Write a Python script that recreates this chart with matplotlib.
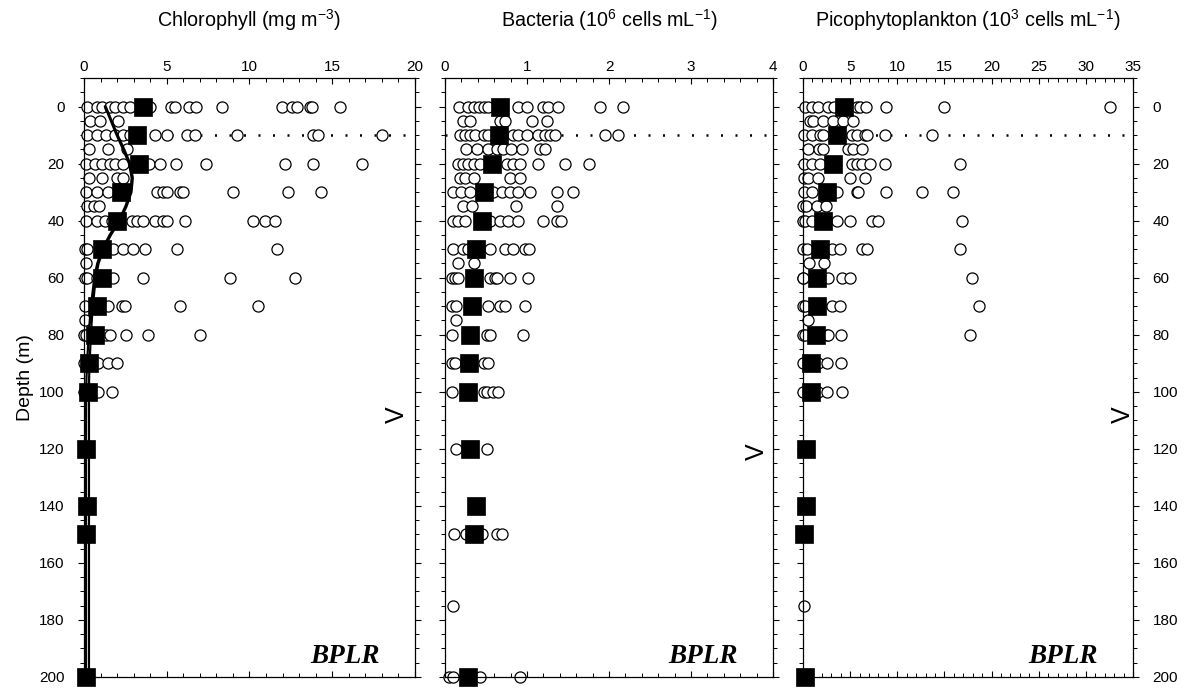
import matplotlib
matplotlib.use("Agg")
import matplotlib.pyplot as plt
from matplotlib.ticker import MultipleLocator

plt.rcParams['font.family'] = ['Liberation Sans', 'DejaVu Sans']
plt.rcParams['mathtext.fontset'] = 'custom'
plt.rcParams['mathtext.rm'] = 'Liberation Sans'
plt.rcParams['mathtext.it'] = 'Liberation Sans:italic'

# ---------------- data ----------------
mean_depth = [0, 10, 20, 30, 40, 50, 60, 70, 80, 90, 100, 120, 140, 150, 200]
chl_mean = [3.58, 3.18, 3.35, 2.21, 2.0, 1.07, 1.07, 0.8, 0.66, 0.32, 0.26, 0.12, 0.2, 0.12, 0.12]
bac_mean = [0.67, 0.66, 0.57, 0.47, 0.45, 0.38, 0.35, 0.33, 0.30, 0.29, 0.28, 0.30, 0.38, 0.35, 0.28]
pico_mean = [4.38, 3.57, 3.15, 2.51, 2.15, 1.8, 1.52, 1.45, 1.34, 0.81, 0.81, 0.32, 0.32, 0.11, 0.21]

chl_obs = {
    0: [0.2, 0.77, 1.07, 1.57, 1.87, 2.38, 2.78, 4.0, 5.24, 5.5, 6.36, 6.77, 8.32, 11.94, 12.55, 12.85, 13.65, 13.75, 15.47],
    5: [0.37, 0.97, 2.08],
    10: [0.2, 0.77, 1.33, 1.87, 2.38, 2.78, 4.29, 5.0, 6.2, 6.7, 9.23, 13.86, 14.16, 17.99],
    15: [0.32, 1.47, 2.58],
    20: [0.12, 0.66, 1.07, 1.57, 1.87, 2.38, 3.9, 4.59, 5.56, 7.37, 12.15, 13.86, 16.78],
    25: [0.32, 1.07, 1.97, 2.38],
    30: [0.12, 0.77, 1.47, 4.39, 4.79, 5.0, 5.8, 5.96, 8.98, 12.35, 14.3],
    35: [0.2, 0.6, 0.9],
    40: [0.12, 0.77, 1.27, 1.67, 2.88, 3.18, 3.58, 4.29, 4.79, 5.0, 6.1, 10.23, 10.94, 11.54],
    50: [0.06, 0.2, 1.77, 2.37, 2.98, 3.68, 5.6, 11.64],
    55: [0.1],
    60: [0.06, 0.2, 0.77, 1.77, 3.59, 8.83, 12.76],
    70: [0.06, 1.47, 2.27, 2.47, 5.8, 10.53],
    75: [0.06],
    80: [0.0, 0.12, 1.33, 1.57, 2.53, 3.88, 7.0],
    90: [0.0, 0.87, 1.47, 2.01],
    100: [0.0, 0.87, 1.67],
}

bac_obs = {
    0: [0.17, 0.28, 0.35, 0.41, 0.47, 0.53, 0.89, 1.0, 1.2, 1.26, 1.38, 1.89, 2.17],
    5: [0.22, 0.30, 0.67, 0.73, 1.06, 1.24],
    10: [0.18, 0.24, 0.30, 0.37, 0.47, 0.53, 0.83, 0.89, 1.0, 1.14, 1.22, 1.28, 1.34, 1.95, 2.11],
    15: [0.26, 0.39, 0.53, 0.63, 0.71, 0.81, 0.94, 1.16, 1.22],
    20: [0.16, 0.22, 0.28, 0.35, 0.43, 0.75, 0.83, 0.91, 1.14, 1.46, 1.75],
    25: [0.18, 0.24, 0.35, 0.79, 0.91],
    30: [0.10, 0.2, 0.3, 0.59, 0.69, 0.79, 0.89, 1.04, 1.36, 1.56],
    35: [0.22, 0.33, 0.87, 1.36],
    40: [0.1, 0.16, 0.24, 0.55, 0.67, 0.77, 0.89, 1.2, 1.36, 1.42],
    50: [0.1, 0.22, 0.28, 0.55, 0.73, 0.83, 0.98, 1.02],
    55: [0.16, 0.35],
    60: [0.08, 0.12, 0.16, 0.55, 0.61, 0.63, 0.79, 1.01],
    70: [0.08, 0.14, 0.53, 0.67, 0.73, 0.98],
    75: [0.13],
    80: [0.09, 0.51, 0.55, 0.95],
    90: [0.09, 0.12, 0.47, 0.53],
    100: [0.09, 0.47, 0.51, 0.59, 0.65],
    120: [0.14, 0.51],
    150: [0.11, 0.26, 0.45, 0.63, 0.70],
    175: [0.1],
    200: [0.05, 0.1, 0.43, 0.92],
}

pico_obs = {
    0: [0.21, 0.92, 1.62, 2.68, 3.3, 5.69, 6.04, 6.68, 8.77, 14.95, 32.55],
    5: [0.74, 1.09, 2.15, 3.22, 4.27, 5.33],
    10: [0.11, 0.92, 1.8, 2.15, 5.16, 5.69, 6.57, 6.82, 8.7, 13.65],
    15: [0.56, 1.73, 2.15, 4.8, 5.33, 6.22],
    20: [0.11, 0.92, 1.8, 5.16, 5.69, 6.22, 7.1, 8.7, 16.65],
    25: [0.11, 0.56, 1.62, 4.98, 6.57],
    30: [0.11, 0.92, 3.57, 5.69, 5.86, 8.77, 12.6, 15.94],
    35: [0.04, 0.32, 1.45, 2.44],
    40: [0.0, 0.21, 0.92, 3.57, 4.98, 7.28, 7.99, 16.83],
    50: [0.04, 0.39, 3.04, 3.92, 6.22, 6.75, 16.65],
    55: [0.67, 2.26],
    60: [0.0, 0.04, 2.68, 4.1, 4.98, 17.89],
    70: [0.0, 0.21, 3.04, 3.92, 18.7],
    75: [0.56],
    80: [0.04, 0.21, 2.51, 2.69, 4.03, 17.7],
    90: [0.0, 1.62, 2.58, 4.03],
    100: [0.0, 1.62, 2.58, 4.17],
    175: [0.11],
}

# two fitted chlorophyll profiles (panel 1 lines)
fit_depth = [0, 5, 10, 15, 20, 25, 30, 35, 40, 45, 50, 55, 60, 70, 80, 90, 95, 100, 120, 150, 200]
fit_chl_a = [1.27, 1.62, 1.97, 2.36, 2.72, 2.88, 2.8, 2.5, 2.1, 1.55, 1.1, 0.8, 0.62, 0.42, 0.28, 0.19, 0.15, 0.13, 0.12, 0.12, 0.12]
fit_chl_b = [1.31, 1.67, 2.03, 2.43, 2.79, 2.95, 2.87, 2.57, 2.17, 1.63, 1.18, 0.88, 0.71, 0.53, 0.41, 0.34, 0.31, 0.30, 0.30, 0.30, 0.30]

titles = ["Chlorophyll (mg m$^{\\mathregular{-3}}$)",
          "Bacteria (10$^{\\mathregular{6}}$ cells mL$^{\\mathregular{-1}}$)",
          "Picophytoplankton (10$^{\\mathregular{3}}$ cells mL$^{\\mathregular{-1}}$)"]
xmax = [20, 4, 35]
xmajor = [5, 1, 5]
xminor = [1, 0.2, 1]
v_mark = [(18.9, 108), (3.8, 121), (33.9, 108)]
mld_depth = 10
site_label = "BPLR"

# ---------------- figure ----------------
W, H = 1194, 688
fig = plt.figure(figsize=(W / 100, H / 100), dpi=100)
lefts = [84, 445, 803]
widths = [331, 328, 330]
top_px, bot_px = 78, 677

obs_list = [chl_obs, bac_obs, pico_obs]
mean_list = [chl_mean, bac_mean, pico_mean]

for i in range(3):
    ax = fig.add_axes([lefts[i] / W, 1 - bot_px / H, widths[i] / W, (bot_px - top_px) / H])
    ax.set_xlim(0, xmax[i])

    # dotted mixed-layer line
    ax.axhline(mld_depth, color='black', lw=1.8, linestyle=(0, (0.8, 5.0)), zorder=1)

    # observations
    xs, ys = [], []
    for d, vals in obs_list[i].items():
        xs.extend(vals)
        ys.extend([d] * len(vals))
    ax.plot(xs, ys, 'o', ms=8.0, mfc='white', mec='black', mew=0.9, zorder=2, clip_on=False)

    if i == 0:
        ax.plot(fit_chl_a, fit_depth, '-', color='black', lw=1.6, zorder=3)
        ax.plot(fit_chl_b, fit_depth, '-', color='black', lw=1.6, zorder=3)

    ax.plot(mean_list[i], mean_depth, 's', ms=13, mfc='black', mec='black', mew=0.5,
            zorder=4, clip_on=False)

    # V marker
    ax.text(v_mark[i][0], v_mark[i][1], "V", rotation=90, fontsize=18,
            ha='center', va='center', color='black')

    # site label
    ax.text(0.893, 0.023, site_label, transform=ax.transAxes, ha='right', va='baseline',
            fontsize=19.5, fontweight='bold', fontstyle='italic',
            family=['Liberation Serif', 'DejaVu Serif'])

    # ticks
    ax.xaxis.set_major_locator(MultipleLocator(xmajor[i]))
    ax.xaxis.set_minor_locator(MultipleLocator(xminor[i]))
    ax.yaxis.set_minor_locator(MultipleLocator(5))
    ax.set_yticks(range(0, 201, 20))
    ax.set_ylim(200, -10)

    ax.tick_params(axis='x', which='both', top=True, bottom=True, labeltop=True,
                   labelbottom=False, direction='in', labelsize=11, pad=3)
    ax.tick_params(axis='x', which='major', length=4.5, width=0.8)
    ax.tick_params(axis='x', which='minor', length=2.8, width=0.7)
    ax.tick_params(axis='y', which='both', left=True, right=True, direction='out',
                   labelsize=11, pad=9.5)
    ax.tick_params(axis='y', which='major', length=4.5, width=0.8)
    ax.tick_params(axis='y', which='minor', length=3, width=0.7)
    ax.tick_params(axis='y', labelleft=(i == 0), labelright=(i == 2))

    for s in ax.spines.values():
        s.set_linewidth(0.9)

    if i == 0:
        ax.set_ylabel("Depth (m)", fontsize=14, labelpad=4)

    cx = (lefts[i] + widths[i] / 2) / W
    fig.text(cx, 1 - 20 / H, titles[i], ha='center', va='center', fontsize=14.2)

fig.savefig("out.png", dpi=100)
